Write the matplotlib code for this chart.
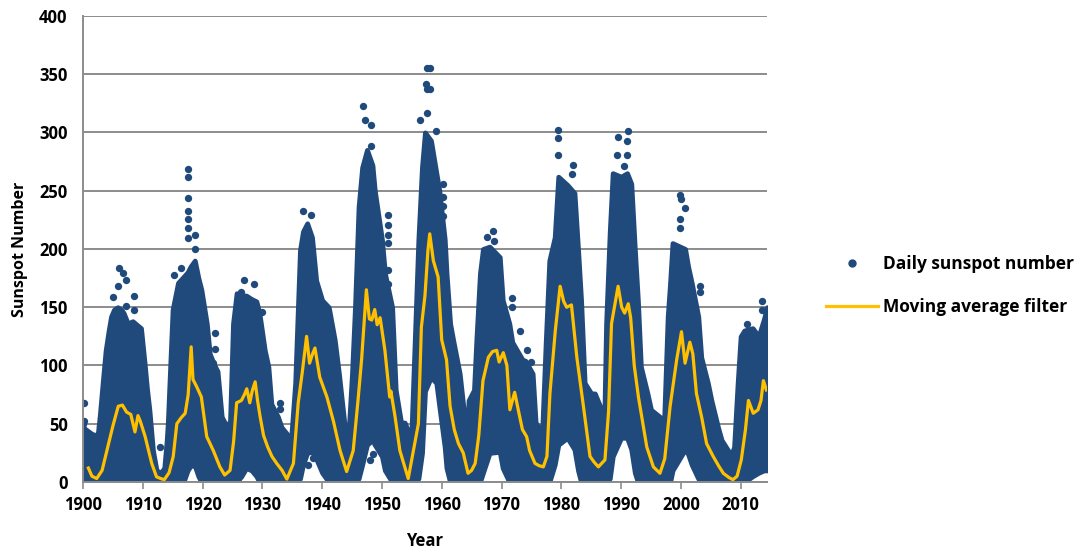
import matplotlib
matplotlib.use("Agg")
import matplotlib.pyplot as plt
from matplotlib.lines import Line2D

band_years = [1900.0, 1900.5, 1901.3, 1902.0, 1902.5, 1902.8, 1903.3, 1903.8, 1904.3, 1904.7,
              1905.2, 1905.8, 1906.4, 1906.8, 1907.5, 1908.3, 1909.0, 1909.7, 1910.3, 1910.7,
              1911.1, 1911.7, 1912.3, 1913.0, 1913.6, 1914.0, 1914.2, 1914.6, 1915.0, 1915.9,
              1916.8, 1917.5, 1918.0, 1918.7, 1919.3, 1919.8, 1920.7, 1921.2, 1922.0, 1922.5,
              1923.2, 1924.0, 1924.6, 1925.1, 1925.7, 1926.5, 1927.3, 1928.2, 1929.0, 1929.5,
              1930.4, 1931.0, 1931.5, 1932.6, 1933.2, 1934.0, 1934.8, 1935.5, 1936.3, 1936.8,
              1937.5, 1938.3, 1939.0, 1940.0, 1941.1, 1942.1, 1942.8, 1943.7, 1944.4, 1945.0,
              1945.5, 1946.1, 1946.7, 1947.5, 1948.4, 1948.8, 1950.0, 1950.5, 1951.7, 1952.3,
              1953.2, 1953.8, 1954.9, 1955.5, 1956.1, 1956.7, 1957.2, 1958.2, 1959.1, 1959.6,
              1960.5, 1960.8, 1961.4, 1961.9, 1963.0, 1963.6, 1964.2, 1964.5, 1965.4, 1965.8,
              1966.4, 1966.9, 1968.0, 1969.7, 1970.2, 1971.3, 1971.8, 1973.5, 1974.0, 1975.2,
              1975.7, 1976.8, 1977.4, 1978.0, 1978.9, 1979.5, 1981.0, 1982.2, 1982.8, 1983.3,
              1983.9, 1985.0, 1985.6, 1987.2, 1987.5, 1988.1, 1988.6, 1990.0, 1991.0, 1991.7,
              1992.3, 1992.8, 1993.3, 1994.4, 1995.0, 1997.2, 1997.8, 1998.2, 1998.6, 2000.7,
              2001.2, 2001.8, 2002.9, 2003.4, 2004.5, 2005.1, 2006.2, 2006.8, 2008.4, 2008.9,
              2009.5, 2010.0, 2010.6, 2012.0, 2013.0, 2013.9, 2014.4]
band_top = [47, 45, 42, 40, 42, 56, 85, 113, 130, 142,
            148, 150, 148, 145, 136, 138, 135, 132, 102, 80,
            62, 27, 10, 8, 12, 35, 51, 100, 148, 171,
            176, 180, 185, 190, 175, 165, 136, 110, 100, 95,
            56, 48, 52, 136, 162, 160, 160, 157, 155, 145,
            113, 99, 67, 56, 47, 42, 36, 85, 199, 215,
            222, 210, 173, 156, 150, 122, 93, 51, 40, 93,
            150, 236, 270, 285, 272, 250, 208, 179, 150, 79,
            51, 51, 37, 122, 208, 270, 300, 293, 265, 250,
            208, 179, 136, 122, 93, 65, 36, 70, 79, 122,
            179, 200, 202, 193, 156, 136, 120, 105, 104, 93,
            51, 43, 120, 190, 210, 262, 255, 248, 199, 156,
            85, 76, 76, 56, 136, 214, 265, 262, 265, 256,
            199, 156, 99, 76, 62, 53, 142, 171, 205, 200,
            185, 171, 142, 107, 85, 70, 47, 36, 23, 30,
            85, 125, 130, 132, 125, 140, 150]
band_bottom = [0, 0, 0, 0, 0, 0, 0, 0, 0, 0,
               0, 0, 0, 0, 0, 0, 0, 0, 0, 0,
               0, 0, 0, 0, 0, 0, 0, 0, 0, 0,
               0, 10, 14, 14, 5, 0, 0, 0, 0, 0,
               0, 0, 0, 0, 0, 5, 12, 10, 5, 0,
               0, 0, 0, 0, 0, 0, 0, 0, 3, 15,
               25, 26, 20, 8, 0, 0, 0, 0, 0, 0,
               0, 3, 15, 32, 36, 32, 22, 10, 0, 0,
               0, 0, 0, 0, 3, 25, 78, 90, 85, 65,
               30, 12, 0, 0, 0, 0, 0, 0, 0, 0,
               0, 8, 25, 26, 12, 0, 0, 0, 0, 0,
               0, 0, 0, 0, 15, 32, 38, 28, 10, 0,
               0, 0, 0, 0, 0, 3, 22, 38, 38, 28,
               8, 0, 0, 0, 0, 0, 0, 0, 10, 28,
               24, 15, 3, 0, 0, 0, 0, 0, 0, 0,
               0, 0, 0, 5, 8, 10, 10]

# isolated daily values that stand out of the band
spot_years = [1900.1, 1900.2, 1900.0, 1903.0, 1902.8,
              1906.1, 1906.7, 1907.2, 1905.9, 1905.0, 1908.6, 1908.6, 1907.2,
              1912.9, 1917.6, 1917.6, 1917.6, 1917.6, 1917.6, 1917.6, 1917.6,
              1918.7, 1918.7, 1916.4, 1915.3, 1918.1,
              1922.1, 1922.1, 1921.8, 1927.0, 1928.6, 1926.5, 1929.9,
              1932.9, 1932.9, 1936.8, 1938.2, 1937.7, 1938.5,
              1946.9, 1947.1, 1948.1, 1948.1, 1948.1, 1951.1, 1951.1, 1951.1,
              1951.1, 1951.1, 1951.0, 1948.0, 1948.5,
              1957.5, 1957.4, 1957.5, 1957.5, 1956.4, 1958.0, 1958.1,
              1959.1, 1960.2, 1960.2, 1960.2, 1960.2,
              1968.6, 1967.5, 1968.7, 1971.7, 1971.7, 1973.1, 1974.2, 1975.0,
              1979.4, 1979.4, 1979.4, 1981.9, 1981.8, 1989.5, 1991.1, 1991.0,
              1991.0, 1989.3, 1990.5, 1991.0, 1979.7,
              1999.8, 2000.0, 2000.7, 1999.8, 1999.8, 2003.2, 2003.2,
              2013.5, 2011.0, 2013.5]
spot_values = [68, 52, 50, 55, 48,
               184, 179, 173, 168, 159, 160, 148, 151,
               30, 269, 262, 244, 233, 226, 218, 209,
               212, 200, 184, 178, 173,
               128, 114, 102, 173, 170, 163, 146,
               68, 63, 233, 229, 15, 21,
               323, 311, 306, 288, 270, 229, 221, 212,
               205, 182, 170, 19, 24,
               355, 342, 337, 317, 311, 355, 337,
               301, 256, 245, 237, 228,
               215, 210, 207, 158, 150, 130, 113, 103,
               302, 295, 281, 272, 264, 296, 301, 293,
               281, 281, 271, 261, 37,
               246, 243, 235, 226, 218, 168, 163,
               155, 136, 148]

# moving average filter
ma_years = [1900.9, 1901.5, 1902.3, 1903.2, 1904.0, 1905.0, 1905.9, 1906.6, 1907.3,
            1908.0, 1908.7, 1909.2, 1909.6, 1910.4, 1911.5, 1912.3, 1913.0, 1913.6,
            1914.4, 1915.1, 1915.7, 1916.4, 1917.1, 1917.6, 1918.1, 1918.4, 1919.0,
            1919.8, 1920.7, 1921.8, 1922.9, 1923.7, 1924.6, 1925.2, 1925.7, 1926.5,
            1927.0, 1927.4, 1927.9, 1928.3, 1928.8, 1929.2, 1929.6, 1930.2, 1930.9,
            1931.6, 1932.4, 1933.3, 1934.1, 1935.2, 1936.0, 1936.7, 1937.4, 1937.9,
            1938.4, 1938.8, 1939.6, 1940.8, 1941.9, 1943.0, 1944.1, 1945.2, 1946.0,
            1946.6, 1947.4, 1947.9, 1948.3, 1948.8, 1949.2, 1949.7, 1950.5, 1951.3,
            1951.5, 1952.2, 1953.0, 1953.7, 1954.4, 1955.2, 1956.1, 1956.6, 1957.2,
            1957.7, 1958.0, 1958.6, 1959.4, 1960.0, 1960.8, 1961.4, 1962.1, 1962.8,
            1963.6, 1964.4, 1965.0, 1965.6, 1966.2, 1966.9, 1967.8, 1968.5, 1969.2,
            1969.6, 1970.3, 1970.9, 1971.4, 1972.2, 1972.8, 1973.5, 1974.2, 1974.7,
            1975.6, 1976.3, 1977.0, 1977.6, 1978.1, 1979.0, 1979.8, 1980.4, 1980.9,
            1981.7, 1982.6, 1983.7, 1984.8, 1985.5, 1986.2, 1987.3, 1987.9, 1988.4,
            1989.5, 1990.1, 1990.6, 1991.2, 1991.6, 1992.2, 1992.9, 1994.3, 1995.4,
            1996.5, 1997.3, 1998.2, 1999.3, 2000.1, 2000.7, 2001.5, 2002.0, 2002.6,
            2003.5, 2004.3, 2005.4, 2006.3, 2007.1, 2008.0, 2008.7, 2009.4, 2010.1,
            2010.8, 2011.3, 2012.1, 2012.9, 2013.4, 2013.8, 2014.3]
ma_values = [12, 5, 3, 10, 27, 48, 65, 66, 60,
             58, 43, 57, 52, 39, 16, 4.5, 3, 2,
             8, 22, 50, 55, 59, 75, 116, 88, 82,
             73, 39, 27, 13, 6, 10, 35, 68, 70,
             75, 80, 68, 78, 86, 70, 57, 40, 30,
             22, 16, 10, 2.5, 16, 68, 95, 125, 102,
             110, 115, 90, 73, 52, 27, 9, 27, 70,
             105, 165, 140, 139, 148, 135, 141, 113, 73,
             78, 56, 27, 15, 3, 25, 50, 133, 160,
             199, 213, 190, 176, 122, 105, 65, 45, 33,
             25, 7.5, 10, 16, 40, 87, 107, 112, 113,
             103, 111, 100, 62, 77, 62, 45, 39, 27,
             16, 14, 13, 22, 76, 130, 168, 155, 150,
             152, 107, 65, 22, 17, 13, 19, 60, 136,
             168, 150, 145, 153, 141, 100, 73, 30, 13,
             7.5, 20, 65, 105, 129, 102, 120, 110, 76,
             55, 33, 22, 14, 7.5, 4, 2, 5, 19,
             45, 70, 59, 62, 70, 87, 79]

dot_color = "#214A7C"
ma_color = "#FFC000"
grid_color = "#8C8C8C"

plt.rcParams["font.family"] = ["Open Sans", "DejaVu Sans"]
plt.rcParams["font.weight"] = "bold"

fig = plt.figure(figsize=(10.83, 5.49), dpi=100)
ax = fig.add_axes([0.0766, 0.122, 0.6316, 0.849])

ax.fill_between(band_years, band_bottom, band_top, color=dot_color,
                edgecolor=dot_color, linewidth=3.5, zorder=2)
ax.scatter(spot_years, spot_values, s=28, color=dot_color, linewidths=0, zorder=2)
ax.plot(ma_years, ma_values, color=ma_color, linewidth=2.3, zorder=3)

ax.set_xlim(1900, 2014.4)
ax.set_ylim(0, 400)
ax.set_xticks(range(1900, 2011, 10))
ax.set_yticks(range(0, 401, 50))
ax.yaxis.grid(True, color=grid_color, linewidth=1.4)
ax.set_axisbelow(True)
ax.tick_params(axis="y", length=0, pad=11, labelsize=12)
ax.tick_params(axis="x", length=5, width=1.2, color=grid_color, direction="out",
               pad=5, labelsize=12)
for side in ["top", "right"]:
    ax.spines[side].set_visible(False)
ax.spines["left"].set_color(grid_color)
ax.spines["left"].set_linewidth(1.4)
ax.spines["bottom"].set_color(grid_color)
ax.spines["bottom"].set_linewidth(1.4)
ax.spines["bottom"].set_zorder(4)

ax.set_xlabel("Year", fontsize=12, fontweight="bold", labelpad=13)
ax.set_ylabel("Sunspot Number", fontsize=11.5, fontweight="bold", labelpad=8)

handles = [Line2D([], [], marker="o", linestyle="none", color=dot_color, markersize=5),
           Line2D([], [], color=ma_color, linewidth=2.3)]
fig.legend(handles, ["Daily sunspot number", "Moving average filter"],
           loc="center left", bbox_to_anchor=(0.7627, 0.48), frameon=False,
           fontsize=12.5, handlelength=3.0, handletextpad=0.3, labelspacing=1.45,
           borderpad=0, borderaxespad=0)

fig.savefig("out.png", dpi=100)
